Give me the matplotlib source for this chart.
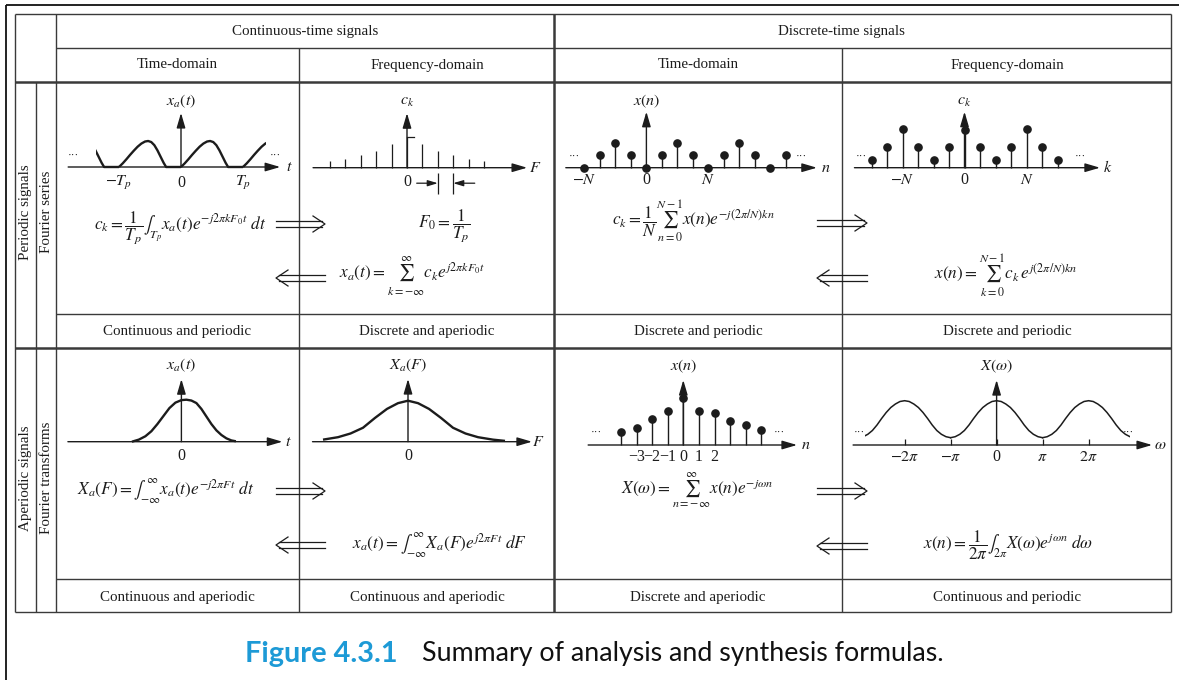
import numpy as np
import matplotlib
matplotlib.use('Agg')
import matplotlib.pyplot as plt
from matplotlib.patches import Rectangle

plt.rcParams['font.family'] = ['Liberation Serif', 'DejaVu Serif']
plt.rcParams['mathtext.fontset'] = 'stix'

W, H = 1179, 680

# ---------------- data ----------------
header_groups = ['Continuous-time signals', 'Discrete-time signals']
domain_headers = ['Time-domain', 'Frequency-domain', 'Time-domain', 'Frequency-domain']
row_groups = ['Periodic signals', 'Aperiodic signals']
row_methods = ['Fourier series', 'Fourier transforms']
periodic_props = ['Continuous and periodic', 'Discrete and aperiodic',
                  'Discrete and periodic', 'Discrete and periodic']
aperiodic_props = ['Continuous and aperiodic', 'Continuous and aperiodic',
                   'Discrete and aperiodic', 'Continuous and periodic']

# periodic CT signal: one period (t in units of Tp)
xa_period_t = [0.0, 0.06, 0.12, 0.18, 0.24, 0.30, 0.36, 0.42, 0.47, 0.52, 0.57, 0.62, 0.67, 0.72, 0.76, 1.0]
xa_period_v = [0.0, 0.14, 0.30, 0.47, 0.63, 0.78, 0.90, 0.98, 1.0, 0.96, 0.84, 0.64, 0.40, 0.16, 0.0, 0.0]
xa_periods = [-2, -1, 0, 1]
xa_tick_pos = [-1, 0, 1]
xa_tick_lbl = [r'$-T_p$', '0', r'$T_p$']

# CT Fourier series line spectrum
ck_ct_k = [-5, -4, -3, -2, -1, 0, 1, 2, 3, 4, 5]
ck_ct_v = [0.22, 0.28, 0.40, 0.54, 0.78, 1.0, 0.78, 0.54, 0.40, 0.28, 0.22]

# DT periodic signal
xn_per_n = [-4, -3, -2, -1, 0, 1, 2, 3, 4, 5, 6, 7, 8, 9]
xn_per_v = [0, 1, 2, 1, 0, 1, 2, 1, 0, 1, 2, 1, 0, 1]
xn_per_tick_pos = [-4, 0, 4]
xn_per_tick_lbl = [r'$-N$', '0', r'$N$']

# DFS coefficients
ck_dt_k = [-6, -5, -4, -3, -2, -1, 0, 1, 2, 3, 4, 5, 6]
ck_dt_v = [0.8, 2.1, 3.9, 2.1, 0.8, 2.1, 3.8, 2.1, 0.8, 2.1, 3.9, 2.1, 0.8]

# aperiodic CT signal
xa_ap_t = [-0.99, -0.85, -0.72, -0.6, -0.48, -0.36, -0.24, -0.12, 0.0, 0.1, 0.2, 0.3,
           0.4, 0.5, 0.6, 0.7, 0.8, 0.9, 1.0, 1.09]
xa_ap_v = [0.0, 0.05, 0.13, 0.25, 0.42, 0.61, 0.80, 0.93, 0.99, 1.0, 0.98, 0.92,
           0.78, 0.60, 0.42, 0.27, 0.16, 0.08, 0.03, 0.01]

# its Fourier transform
Xa_F = [-1.7, -1.4, -1.15, -0.9, -0.66, -0.42, -0.2, 0.0, 0.2, 0.42, 0.66, 0.9, 1.15, 1.4, 1.7, 1.94]
Xa_v = [0.05, 0.11, 0.20, 0.34, 0.58, 0.80, 0.94, 1.0, 0.94, 0.80, 0.58, 0.34, 0.20, 0.11, 0.05, 0.02]

# aperiodic DT signal
xn_ap_n = [-4, -3, -2, -1, 0, 1, 2, 3, 4, 5]
xn_ap_v = [1.27, 1.67, 2.6, 3.4, 4.67, 3.4, 3.23, 2.43, 2.0, 1.5]
xn_ap_tick_pos = [-3, -2, -1, 0, 1, 2]
xn_ap_tick_lbl = ['\u22123', '\u22122', '\u22121', '0', '1', '2']

# DTFT: one period, omega in units of pi
Xw_period_w = [-1.0, -0.9, -0.8, -0.7, -0.6, -0.5, -0.4, -0.3, -0.2, -0.1, 0.0,
               0.1, 0.2, 0.3, 0.4, 0.5, 0.6, 0.7, 0.8, 0.9, 1.0]
Xw_period_v = [0.73, 0.83, 1.07, 1.45, 2.0, 2.65, 3.25, 3.75, 4.1, 4.35, 4.43,
               4.35, 4.1, 3.75, 3.25, 2.65, 2.0, 1.45, 1.07, 0.83, 0.73]
Xw_centres = [-2, 0, 2]
Xw_tick_pos = [-2, -1, 0, 1, 2]
Xw_tick_lbl = [r'$-2\pi$', r'$-\pi$', '0', r'$\pi$', r'$2\pi$']

formulas = [
    r'$c_k = \dfrac{1}{T_p}\int_{T_p} x_a(t)e^{-j2\pi kF_0t}\ dt$',
    r'$F_0 = \dfrac{1}{T_p}$',
    r'$x_a(t) = \sum_{k=-\infty}^{\infty} c_k e^{j2\pi kF_0t}$',
    r'$c_k = \dfrac{1}{N}\sum_{n=0}^{N-1} x(n)e^{-j(2\pi/N)kn}$',
    r'$x(n) = \sum_{k=0}^{N-1} c_k\, e^{j(2\pi/N)kn}$',
    r'$X_a(F) = \int_{-\infty}^{\infty} x_a(t)e^{-j2\pi Ft}\ dt$',
    r'$x_a(t) = \int_{-\infty}^{\infty} X_a(F)e^{j2\pi Ft}\ dF$',
    r'$X(\omega) = \sum_{n=-\infty}^{\infty} x(n)e^{-j\omega n}$',
    r'$x(n) = \dfrac{1}{2\pi}\int_{2\pi} X(\omega)e^{j\omega n}\ d\omega$',
]

# ---------------- layout ----------------
INK = '#1c1c1c'
GRID = '#3a3a3a'
FS = 10.8
FFS = 12.4

fig = plt.figure(figsize=(W / 100, H / 100), dpi=100)
base = fig.add_axes([0, 0, 1, 1])
base.set_xlim(0, W)
base.set_ylim(H, 0)
base.axis('off')

def hl(y, x1, x2, lw=1.0, c=GRID):
    base.plot([x1, x2], [y, y], color=c, lw=lw, solid_capstyle='butt')

def vl(x, y1, y2, lw=1.0, c=GRID):
    base.plot([x, x], [y1, y2], color=c, lw=lw, solid_capstyle='butt')

# outer frame
hl(4.5, 6, W, lw=1.3, c='#111111')
vl(6, 4.5, H, lw=1.3, c='#111111')

# table grid
vl(15, 14, 612); vl(36, 82, 612); vl(56, 14, 612)
vl(299, 48, 612); vl(554, 14, 612, lw=1.8); vl(842, 48, 612); vl(1171, 14, 612)
hl(14, 15, 1171); hl(48, 56, 1171); hl(82, 15, 1171, lw=1.8)
hl(314, 56, 1171); hl(348, 15, 1171, lw=1.8); hl(579, 56, 1171); hl(612, 15, 1171)

# headers
group_x = [305, 841]
for gx, s in zip(group_x, header_groups):
    base.text(gx, 31, s, ha='center', va='center', fontsize=FS, color=INK)
col_x = [177, 427, 698, 1007]
for cx, s in zip(col_x, domain_headers):
    base.text(cx, 65, s, ha='center', va='center', fontsize=FS, color=INK)
for cx, s in zip(col_x, periodic_props):
    base.text(cx, 331, s, ha='center', va='center', fontsize=FS, color=INK)
for cx, s in zip(col_x, aperiodic_props):
    base.text(cx, 597, s, ha='center', va='center', fontsize=FS, color=INK)
for ry, g, m in zip([212, 478], row_groups, row_methods):
    base.text(25.5, ry, g, ha='center', va='center', rotation=90, fontsize=FS, color=INK)
    base.text(46, ry, m, ha='center', va='center', rotation=90, fontsize=FS, color=INK)

# formulas
fpos = [(180, 228), (444, 226), (412, 276), (693, 221), (1006, 276),
        (166, 491), (440, 545), (697, 490), (1008, 545)]
for (fx, fy), s in zip(fpos, formulas):
    base.text(fx, fy, s, ha='center', va='center', fontsize=FFS, color=INK)

def darrow(x1, x2, y, right=True):
    gap = 2.8
    hlen, hh = 12, 8
    tip, tail, sg = (x2, x1, 1) if right else (x1, x2, -1)
    end = tip - sg * 3
    for dy in (-gap, gap):
        base.plot([tail, end], [y + dy, y + dy], color=INK, lw=0.9)
    base.plot([tip - sg * hlen, tip, tip - sg * hlen], [y - hh, y, y + hh], color=INK, lw=0.9)

darrow(276, 325, 224, True); darrow(276, 325, 278, False)
darrow(817, 867, 223, True); darrow(817, 867, 278, False)
darrow(276, 325, 491, True); darrow(276, 325, 545, False)
darrow(817, 867, 491, True); darrow(817, 867, 546, False)

# caption
base.text(245, 654, 'Figure 4.3.1', ha='left', va='center', fontsize=20.8,
          family='Lato', weight='bold', color='#1d9ad6')
base.text(422, 654, 'Summary of analysis and synthesis formulas.', ha='left', va='center',
          fontsize=19.3, family='Lato', color='#111111')

# ---------------- mini plots ----------------
def mini(box, origin, sx, sy):
    l, t, r, b = box
    x0, y0 = origin
    ax = fig.add_axes([l / W, 1 - b / H, (r - l) / W, (b - t) / H])
    ax.set_xlim((l - x0) / sx, (r - x0) / sx)
    ax.set_ylim((y0 - b) / sy, (y0 - t) / sy)
    ax.axis('off')
    return ax

def axes_arrows(ax, xs, xe, ytop, xlabel, ylabel, ylab_y, xlab_dx):
    ap = dict(arrowstyle='-|>,head_length=0.75,head_width=0.22', lw=1.0, color=INK,
              shrinkA=0, shrinkB=0, mutation_scale=12)
    ax.annotate('', xy=(xe, 0), xytext=(xs, 0), arrowprops=ap)
    ax.annotate('', xy=(0, ytop), xytext=(0, 0), arrowprops=ap)
    ax.text(xe + xlab_dx, 0, xlabel, ha='center', va='center', fontsize=11.5, color=INK)
    ax.text(0, ylab_y, ylabel, ha='center', va='center', fontsize=11.5, color=INK)

def dots(ax, x, y, s='\u00b7\u00b7\u00b7'):
    ax.text(x, y, s, ha='center', va='center', fontsize=8, color=INK)

# P1: periodic CT signal
ax1 = mini((60, 90, 298, 195), (181, 167), 62, 26)
axes_arrows(ax1, -1.82, 1.6, 2.08, r'$t$', r'$x_a(t)$', 2.54, 0.14)
clip1 = Rectangle((-1.37, -1), 2.74, 3, transform=ax1.transData)
for p in xa_periods:
    ln, = ax1.plot(np.array(xa_period_t) + p, xa_period_v, color=INK, lw=1.7,
                   solid_capstyle='butt', solid_joinstyle='round')
    ln.set_clip_path(clip1)
for tp, tl in zip(xa_tick_pos, xa_tick_lbl):
    ax1.text(tp, -0.62, tl, ha='center', va='center', fontsize=11.5, color=INK)
dots(ax1, -1.74, 0.46); dots(ax1, 1.52, 0.46)

# P2: CT line spectrum
ax2 = mini((305, 90, 550, 200), (407, 167.7), 15.4, 31)
axes_arrows(ax2, -6.1, 7.8, 1.76, r'$F$', r'$c_k$', 2.15, 0.5)
ax2.vlines(ck_ct_k, 0, ck_ct_v, color=INK, lw=0.9)
ax2.plot([0, 0.45], [ck_ct_v[5], ck_ct_v[5]], color=INK, lw=0.9)
ax2.text(0, -0.45, '0', ha='center', va='center', fontsize=11.5, color=INK)
ax2.vlines([2, 3], -0.86, -0.16, color=INK, lw=0.9)
apF = dict(arrowstyle='-|>,head_length=0.6,head_width=0.18', lw=0.9, color=INK,
           shrinkA=0, shrinkB=0, mutation_scale=10)
ax2.annotate('', xy=(2, -0.5), xytext=(0.63, -0.5), arrowprops=apF)
ax2.annotate('', xy=(3, -0.5), xytext=(4.4, -0.5), arrowprops=apF)

# P3: DT periodic signal
ax3 = mini((558, 90, 840, 195), (646.4, 167.7), 15.5, 12.3)
axes_arrows(ax3, -5.2, 11.0, 4.55, r'$n$', r'$x(n)$', 5.37, 0.6)
ax3.vlines(xn_per_n, 0, xn_per_v, color=INK, lw=1.0)
ax3.plot(xn_per_n, xn_per_v, 'o', color=INK, ms=5.2, clip_on=False)
for tp, tl in zip(xn_per_tick_pos, xn_per_tick_lbl):
    ax3.text(tp, -1.0, tl, ha='center', va='center', fontsize=11.5, color=INK)
dots(ax3, -4.67, 0.95); dots(ax3, 9.97, 0.95)

# P4: DFS coefficients
ax4 = mini((846, 90, 1168, 195), (964.5, 167.7), 15.5, 10)
axes_arrows(ax4, -7.1, 8.74, 5.6, r'$k$', r'$c_k$', 6.7, 0.5)
ax4.vlines(ck_dt_k, 0, ck_dt_v, color=INK, lw=1.0)
ax4.plot(ck_dt_k, ck_dt_v, 'o', color=INK, ms=5.2, clip_on=False)
for tp, tl in zip(xn_per_tick_pos, xn_per_tick_lbl):
    ax4.text(tp, -1.23, tl, ha='center', va='center', fontsize=11.5, color=INK)
dots(ax4, -6.68, 1.17); dots(ax4, 7.45, 1.17)

# P5: aperiodic CT signal
ax5 = mini((60, 355, 298, 470), (181.4, 441.7), 50, 42)
axes_arrows(ax5, -2.27, 2.02, 1.49, r'$t$', r'$x_a(t)$', 1.83, 0.11)
ax5.plot(xa_ap_t, xa_ap_v, color=INK, lw=1.7, solid_capstyle='butt')
ax5.text(0, -0.34, '0', ha='center', va='center', fontsize=11.5, color=INK)

# P6: its spectrum
ax6 = mini((305, 355, 550, 470), (408, 441.7), 50, 41)
axes_arrows(ax6, -1.91, 2.48, 1.53, r'$F$', r'$X_a(F)$', 1.87, 0.12)
ax6.plot(Xa_F, Xa_v, color=INK, lw=1.7, solid_capstyle='butt')
ax6.text(0, -0.35, '0', ha='center', va='center', fontsize=11.5, color=INK)

# P7: aperiodic DT signal
ax7 = mini((558, 355, 840, 470), (683.3, 445), 15.6, 10)
axes_arrows(ax7, -6.1, 7.29, 6.5, r'$n$', r'$x(n)$', 7.83, 0.55)
ax7.vlines(xn_ap_n, 0, xn_ap_v, color=INK, lw=1.0)
ax7.plot(xn_ap_n, xn_ap_v, 'o', color=INK, ms=5.2, clip_on=False)
for tp, tl in zip(xn_ap_tick_pos, xn_ap_tick_lbl):
    ax7.text(tp, -1.17, tl, ha='center', va='center', fontsize=11.5, color=INK)
dots(ax7, -5.6, 1.23); dots(ax7, 6.13, 1.23)

# P8: DTFT
ax8 = mini((846, 355, 1168, 470), (996.6, 445), 46, 10)
axes_arrows(ax8, -3.12, 3.38, 6.5, r'$\omega$', r'$X(\omega)$', 7.83, 0.18)
clip8 = Rectangle((-2.86, -1), 5.76, 10, transform=ax8.transData)
for c in Xw_centres:
    ln, = ax8.plot(np.array(Xw_period_w) + c, Xw_period_v, color=INK, lw=1.1)
    ln.set_clip_path(clip8)
ax8.vlines(Xw_tick_pos, 0, 0.6, color=INK, lw=0.9)
for tp, tl in zip(Xw_tick_pos, Xw_tick_lbl):
    ax8.text(tp, -1.17, tl, ha='center', va='center', fontsize=11.5, color=INK)
dots(ax8, -2.99, 1.23); dots(ax8, 2.86, 1.23)

fig.savefig('out.png', dpi=100)
